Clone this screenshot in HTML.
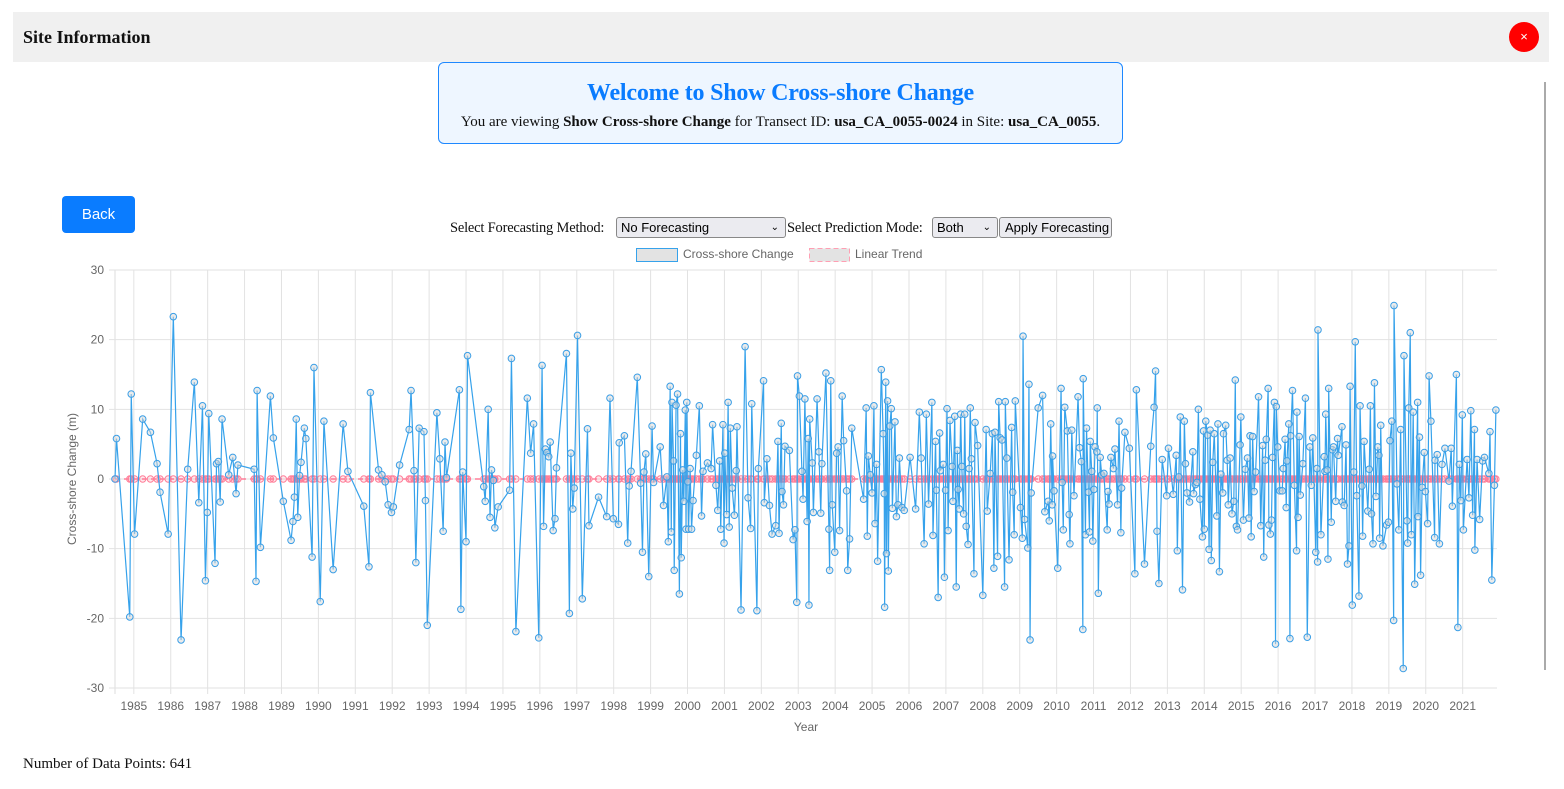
<!DOCTYPE html>
<html><head><meta charset="utf-8">
<style>
body{margin:0;width:1564px;height:789px;background:#fff;position:relative;overflow:hidden;font-family:"Liberation Serif",serif;}
.abs{position:absolute;}
#hdr{left:13px;top:12px;width:1536px;height:50px;background:#f0f0f0;}
#hdr h2{position:absolute;left:10px;top:15px;margin:0;font-size:18px;font-weight:bold;color:#111;}
#close{left:1509px;top:22px;width:30px;height:30px;border-radius:50%;background:#f00;color:#fff;font:13px "Liberation Sans",sans-serif;text-align:center;line-height:30px;}
#welcome{left:438px;top:62px;width:683px;height:80px;border:1px solid #1e88ff;border-radius:6px;background:#eef6ff;text-align:center;}
#welcome h1{margin:17px 0 0;font-size:24px;color:#0a7cff;font-weight:bold;letter-spacing:-0.2px;}
#welcome p{margin:7px 0 0;font-size:15px;color:#111;}
#back{left:62px;top:196px;width:73px;height:37px;background:#0a7cff;border-radius:4px;color:#fff;font:15px "Liberation Sans",sans-serif;text-align:center;line-height:37px;}
.lbl{font-size:14.5px;color:#111;top:220px;letter-spacing:-0.2px;white-space:nowrap;}
.sel{top:217px;height:21px;border:1px solid #888;border-radius:3px;background:#ebebf0;font:13px "Liberation Sans",sans-serif;line-height:20px;padding-left:4px;box-sizing:border-box;}
.sel .ar{position:absolute;right:6px;top:0;font-size:10px;}
#foot{left:23px;top:756px;font-size:15px;color:#111;}
#scroll{left:1544px;top:82px;width:2px;height:588px;background:#aaa;}
</style></head><body>
<div id="hdr" class="abs"><h2>Site Information</h2></div>
<div id="close" class="abs">×</div>
<div id="welcome" class="abs">
<h1>Welcome to Show Cross-shore Change</h1>
<p>You are viewing <b>Show Cross-shore Change</b> for Transect ID: <b>usa_CA_0055-0024</b> in Site: <b>usa_CA_0055</b>.</p>
</div>
<div id="back" class="abs">Back</div>
<div class="abs lbl" style="left:450px">Select Forecasting Method:</div>
<div class="abs sel" style="left:616px;width:170px">No Forecasting<span class="ar">&#8964;</span></div>
<div class="abs lbl" style="left:787px">Select Prediction Mode:</div>
<div class="abs sel" style="left:932px;width:66px">Both<span class="ar">&#8964;</span></div>
<div class="abs sel" style="left:999px;width:113px;padding-left:5px">Apply Forecasting</div>
<div id="scroll" class="abs"></div>
<div id="foot" class="abs">Number of Data Points: 641</div>
<svg id="chart" class="abs" style="left:0;top:0" width="1564" height="789"></svg>
<script>
const years=[1984.49,1984.53,1984.89,1984.93,1985.02,1985.24,1985.45,1985.63,1985.71,1985.93,1986.07,1986.28,1986.46,1986.64,1986.76,1986.86,1986.94,1986.99,1987.03,1987.20,1987.24,1987.29,1987.34,1987.39,1987.57,1987.68,1987.77,1987.82,1988.26,1988.31,1988.34,1988.43,1988.70,1988.78,1989.05,1989.26,1989.31,1989.35,1989.40,1989.44,1989.49,1989.53,1989.62,1989.66,1989.83,1989.88,1990.05,1990.15,1990.40,1990.67,1990.80,1991.23,1991.37,1991.41,1991.63,1991.72,1991.81,1991.89,1991.98,1992.03,1992.20,1992.46,1992.51,1992.59,1992.64,1992.73,1992.86,1992.90,1992.95,1993.21,1993.29,1993.38,1993.43,1993.47,1993.82,1993.86,1993.91,1994.00,1994.04,1994.48,1994.52,1994.60,1994.65,1994.69,1994.74,1994.78,1994.87,1995.18,1995.23,1995.35,1995.66,1995.75,1995.83,1995.97,1996.06,1996.10,1996.15,1996.19,1996.24,1996.28,1996.36,1996.41,1996.45,1996.72,1996.80,1996.84,1996.89,1996.93,1997.02,1997.15,1997.29,1997.33,1997.59,1997.81,1997.90,
1997.99,1998.13,1998.15,1998.29,1998.38,1998.42,1998.47,1998.64,1998.73,1998.78,1998.82,1998.87,1998.95,1999.04,1999.08,1999.26,1999.35,1999.44,1999.48,1999.53,1999.56,1999.58,1999.62,1999.64,1999.69,1999.73,1999.78,1999.81,1999.83,1999.87,1999.90,1999.94,1999.96,1999.98,2000.01,2000.03,2000.07,2000.11,2000.15,2000.24,2000.32,2000.38,2000.42,2000.54,2000.64,2000.68,2000.77,2000.82,2000.87,2000.90,2000.96,2000.99,2001.01,2001.06,2001.10,2001.13,2001.16,2001.21,2001.27,2001.32,2001.34,2001.45,2001.56,2001.64,2001.71,2001.74,2001.88,2001.92,2002.06,2002.08,2002.15,2002.22,2002.29,2002.39,2002.45,2002.48,2002.54,2002.56,2002.60,2002.64,2002.76,2002.86,2002.91,2002.96,2002.98,2003.03,2003.10,2003.13,2003.18,2003.24,2003.27,2003.29,2003.31,2003.38,2003.41,2003.51,2003.56,2003.61,2003.64,2003.75,2003.83,2003.85,2003.88,2003.92,2003.99,2004.04,2004.08,2004.12,2004.19,2004.23,2004.31,2004.34,2004.39,2004.45,2004.77,2004.84,2004.87,2004.90,2004.95,2005.00,2005.05,2005.08,2005.12,2005.15,2005.25,2005.30,2005.33,2005.34,2005.37,2005.39,2005.42,2005.44,2005.48,2005.52,2005.55,2005.62,2005.66,2005.70,2005.74,2005.81,2005.87,2006.03,2006.18,2006.28,2006.33,2006.41,2006.47,2006.53,2006.62,2006.65,2006.72,2006.74,2006.79,2006.83,2006.85,2006.93,2006.96,2006.99,2007.03,2007.06,2007.11,2007.17,2007.19,2007.24,2007.28,2007.31,2007.33,2007.36,2007.40,2007.43,2007.48,2007.51,2007.55,2007.60,2007.63,2007.66,2007.69,2007.76,2007.79,2007.86,2008.00,2008.09,2008.12,2008.20,2008.26,2008.30,2008.33,2008.40,2008.43,2008.47,2008.52,2008.59,2008.61,2008.65,2008.71,2008.78,2008.81,2008.85,2008.88,2009.02,2009.07,2009.09,2009.13,2009.22,2009.25,2009.28,2009.31,2009.50,
2009.62,2009.68,2009.77,2009.80,2009.84,2009.88,2009.89,2009.93,2010.03,2010.12,2010.15,2010.18,2010.22,2010.29,2010.34,2010.36,2010.41,2010.47,2010.58,2010.62,2010.67,2010.71,2010.72,2010.78,2010.81,2010.86,2010.89,2010.91,2010.95,2010.98,2011.01,2011.04,2011.09,2011.10,2011.13,2011.18,2011.22,2011.28,2011.37,2011.39,2011.42,2011.47,2011.54,2011.58,2011.65,2011.69,2011.74,2011.76,2011.85,2011.97,2012.12,2012.16,2012.38,2012.55,2012.64,2012.68,2012.72,2012.77,2012.86,2012.98,2013.03,2013.16,2013.24,2013.27,2013.31,2013.35,2013.41,2013.46,2013.49,2013.53,2013.60,2013.69,2013.71,2013.76,2013.80,2013.84,2013.88,2013.95,2013.98,2014.00,2014.04,2014.09,2014.13,2014.16,2014.19,2014.23,2014.27,2014.34,2014.37,2014.41,2014.45,2014.50,2014.52,2014.58,2014.62,2014.65,2014.70,2014.75,2014.80,2014.84,2014.87,2014.90,2014.97,2014.99,2015.06,2015.11,2015.17,2015.21,2015.24,2015.27,2015.31,2015.35,2015.39,2015.47,2015.53,2015.58,2015.61,2015.65,2015.68,2015.73,2015.75,2015.79,2015.82,2015.85,2015.90,2015.93,2015.95,2015.99,2016.05,2016.11,2016.14,2016.19,2016.22,2016.24,2016.29,2016.32,2016.34,2016.39,2016.44,2016.50,2016.51,2016.54,2016.57,2016.60,2016.67,2016.74,2016.79,2016.86,2016.90,2016.94,2017.02,2017.05,2017.07,2017.08,2017.16,2017.25,2017.27,2017.29,2017.33,2017.35,2017.37,2017.44,2017.47,2017.50,2017.56,2017.61,2017.63,2017.73,2017.74,2017.79,2017.84,2017.88,2017.92,2017.95,2018.01,2018.05,2018.09,2018.13,2018.19,2018.22,2018.27,2018.29,2018.33,2018.43,2018.47,2018.50,2018.53,2018.57,2018.61,2018.65,2018.70,2018.73,2018.75,2018.78,2018.84,2018.94,2018.99,2019.03,2019.08,2019.13,2019.14,2019.22,2019.27,2019.32,2019.39,2019.41,2019.49,2019.51,2019.54,2019.58,2019.61,2019.66,2019.70,2019.78,2019.79,2019.83,2019.86,2019.90,2019.96,2019.99,2020.05,2020.09,2020.14,2020.24,2020.25,2020.31,2020.37,2020.44,2020.52,2020.63,2020.69,2020.72,2020.83,2020.87,2020.91,2020.95,2020.99,2021.02,2021.12,2021.17,2021.22,2021.27,2021.32,2021.33,2021.39,2021.46,2021.54,2021.59,2021.71,2021.74,2021.79,2021.86,2021.90];
const changes=[0,5.8,-19.8,12.2,-7.9,8.6,6.7,2.2,-1.9,-7.9,23.3,-23.1,1.4,13.9,-3.4,10.5,-14.6,-4.8,9.4,-12.1,2.2,2.5,-3.3,8.6,0.6,3.1,-2.1,2,1.4,-14.7,12.7,-9.8,11.9,5.9,-3.2,-8.8,-6.1,-2.6,8.6,-5.5,0.5,2.4,7.3,5.8,-11.2,16,-17.6,8.3,-13,7.9,1.1,-3.9,-12.6,12.4,1.3,0.6,-0.4,-3.7,-4.8,-4,2,7.1,12.7,1.2,-12,7.3,6.8,-3.1,-21,9.5,2.9,-7.5,5.3,0.2,12.8,-18.7,1,-9,17.7,-1.1,-3.2,10,-5.5,1.3,-0.2,-7,-4,-1.6,17.3,-21.9,11.6,3.7,7.9,-22.8,16.3,-6.8,4.3,3.8,3.2,5.3,-7.4,-5.7,1.6,18,-19.3,3.7,-4.3,-1.3,20.6,-17.2,7.2,-6.7,-2.6,-5.4,11.6,
-5.7,-6.5,5.2,6.2,-9.2,-1,1.1,14.6,-0.6,-10.5,1,3.6,-14,7.6,-0.5,4.6,-3.8,0.3,-9,13.3,-7.6,11,2.6,-13.1,10.6,12.2,-16.5,6.5,-11.3,1.3,-3.2,9.9,-7.2,11,-0.4,-7.2,1.5,-7.2,-3.1,3.4,10.5,-5.3,1.1,2.3,1.5,7.8,-0.9,-4.5,2.6,-7.2,7.8,-9.2,3.7,-5.1,11,-6.9,7.3,-1.3,-5.2,1.2,7.5,-18.8,19,-2.7,-7.1,10.8,-18.9,1.5,14.1,-3.4,2.9,-3.8,-7.9,-6.7,5.4,-7.8,8,-1.8,-3.7,4.7,4.1,-8.7,-7.3,-17.7,14.8,11.9,1.1,-2.9,11.5,-6.1,5.8,-18.1,8.6,2.3,-4.8,11.5,3.9,-4.9,2.2,15.2,-7.2,-13.1,14.1,-3.7,-10.5,3.7,4.6,-7.4,11.9,5.5,-1.7,-13.1,-8.6,7.3,-2.9,10.2,-8.2,3.3,0.6,-2,10.5,-6.4,2.1,-11.8,15.7,6.5,-2.1,-18.4,13.9,-10.7,11.2,-13.2,7.6,10.1,-4.2,8.2,-5.4,-3.7,3,-4.1,-4.5,3.1,-4.3,9.6,3,-9.3,9.3,-3.6,11,-8.1,5.4,-1.6,-17,6.6,1.2,2.1,-14.1,-1.6,10.1,-7.4,8.4,1.8,-3.2,9,-15.5,4.1,-1.5,-4.3,9.3,1.8,-5,9.3,-6.8,-9.4,1.5,10.2,2.9,-13.6,8.1,4.8,-16.7,7.1,-4.6,0.8,6.5,-12.8,6.7,-11.1,11.1,5.9,5.6,-15.5,11.1,3,-11.6,7.4,-1.9,-8,11.2,-4.1,-8.5,20.5,-5.8,-9.9,13.6,-23.1,-2,10.2,
12,-4.7,-3.2,-6,7.9,-3.7,3.3,-1.7,-12.8,13,-0.5,-7.3,10.3,6.9,-5.1,-9.3,7,-2.4,11.8,4.5,2.5,-21.6,14.4,-8,7.3,-1.9,-7.6,5.4,1.1,-8.9,-1.5,4.6,3.9,10.2,-16.4,3.1,0.6,0.8,-7.3,-1.8,-3.6,3.1,1.5,4.3,-3.7,8.3,-7.7,-1.3,6.7,4.4,-13.6,12.8,-12.2,4.7,10.3,15.5,-7.5,-15,2.8,-2.4,4.4,-2.2,3.4,-10.3,0.3,8.9,-15.9,8.3,2.2,-2,-3.3,3.9,-2.1,-0.8,-0.5,10,-2.9,-8.3,6.9,-7.2,8.3,6.3,-10.1,7,-11.7,2.4,6.5,-5.3,7.9,-13.3,0.7,-2,6.5,7.7,2.7,-3.7,3,-5,-3.2,14.2,-6.8,-7.3,4.9,8.9,-5.9,1.4,3,-5.6,6.2,-8.3,6.1,-1.8,1,11.8,-6.7,4.8,-11.2,2.7,5.7,13,-6.6,-7.9,-5.9,3.1,11,-23.7,10.4,4.6,-1.7,-1.7,1.5,5.7,-4.1,2.6,7.9,-22.9,6.2,12.7,-0.9,-10.3,9.6,-5.5,6.1,-2.3,2.2,11.6,-22.7,4.6,-0.9,5.9,-10.5,1.5,-11.9,21.4,-8,3.2,1.1,9.3,1.3,-11.5,13,-6.2,4.2,4.6,-3.2,5.8,3.4,7.5,-3.3,-3.8,4.9,-12.2,-9.6,13.3,-18.1,1,19.7,-2.4,-16.8,10.5,-1,-8.2,5.4,-4.6,1.4,10.5,-5,-9.3,13.8,-2.5,4.6,3.4,-8.5,7.7,-9.6,-6.6,-6.2,5.5,8.3,-20.3,24.9,-0.7,-7.3,7.1,-27.2,17.7,-6,-9.2,10.2,21,-8,9.6,-15.1,11,-5.4,6,-13.8,-1.2,3.8,-1.8,-6.4,14.8,8.3,-8.4,2.7,3.5,-9.3,2.1,4.4,-0.3,4.4,-3.9,15,-21.3,2.1,-3.1,9.2,-7.3,2.8,-2.7,9.8,-5.2,7.1,-10.2,2.8,-5.8,2.6,3.1,0.8,6.8,-14.5,-0.9,9.9];
const trend=years.map(()=>0);
const yTicks=[30,20,10,0,-10,-20,-30];
const xTickYears=[1985,1986,1987,1988,1989,1990,1991,1992,1993,1994,1995,1996,1997,1998,1999,2000,2001,2002,2003,2004,2005,2006,2007,2008,2009,2010,2011,2012,2013,2014,2015,2016,2017,2018,2019,2020,2021];

const NS='http://www.w3.org/2000/svg';
const svg=document.getElementById('chart');
const L=115,R=1497,T=270,B=688,x0=1984.49,x1=2021.93,yMin=-30,yMax=30;
const X=v=>L+(v-x0)/(x1-x0)*(R-L);
const Y=v=>B-(v-yMin)/(yMax-yMin)*(B-T);
function mk(tag,attrs,parent){const e=document.createElementNS(NS,tag);for(const k in attrs)e.setAttribute(k,attrs[k]);(parent||svg).appendChild(e);return e;}
const grid=mk('g',{});


mk('line',{x1:L,x2:L,y1:T,y2:B+6,stroke:'#ddd'},grid);
xTickYears.forEach(yr=>{
 const x=X(yr);
 mk('line',{x1:x,x2:x,y1:T,y2:B+6,stroke:'#e2e2e2'},grid);
 const t=mk('text',{x:x,y:B+22,'text-anchor':'middle','font-size':12,fill:'#666','font-family':'Liberation Sans, sans-serif'});
 t.textContent=yr;
 
 
});
yTicks.forEach(v=>{
 const y=Y(v);
 mk('line',{x1:L-6,x2:R,y1:y,y2:y,stroke:'#e2e2e2'},grid);
 const t=mk('text',{x:L-11,y:y+4,'text-anchor':'end','font-size':12,fill:'#666','font-family':'Liberation Sans, sans-serif'});
 t.textContent=v;
 
 
});
const xt=mk('text',{x:806,y:731,'text-anchor':'middle','font-size':12,fill:'#666','font-family':'Liberation Sans, sans-serif'});
xt.textContent='Year';


const yt=mk('text',{x:0,y:0,'text-anchor':'middle','font-size':12,fill:'#666','font-family':'Liberation Sans, sans-serif',transform:'translate(76,479) rotate(-90)'});
yt.textContent='Cross-shore Change (m)';


const lg=mk('g',{'font-family':'Liberation Sans, sans-serif','font-size':12,fill:'#666'});


mk('rect',{x:636.5,y:248.5,width:41,height:13,fill:'#e3e3e3',stroke:'#36a2eb'},lg);
const l1=mk('text',{x:683,y:258},lg);l1.textContent='Cross-shore Change';


mk('rect',{x:809.5,y:248.5,width:40,height:13,fill:'#e3e3e3',stroke:'#ff9fb3','stroke-dasharray':'5,3'},lg);
const l2=mk('text',{x:855,y:258},lg);l2.textContent='Linear Trend';


const tg=mk('g',{});


mk('polyline',{points:years.map((yr,i)=>X(yr)+','+Y(trend[i])).join(' '),fill:'none',stroke:'#ff6384','stroke-width':1.2,'stroke-dasharray':'5,4'},tg);
years.forEach((yr,i)=>{
 const c=mk('circle',{cx:X(yr),cy:Y(trend[i]),r:3.2,fill:'rgba(255,99,132,0.15)',stroke:'#ff7f99','stroke-width':1},tg);
 
 
});
const dg=mk('g',{});


mk('polyline',{points:years.map((yr,i)=>X(yr)+','+Y(changes[i])).join(' '),fill:'none',stroke:'#36a2eb','stroke-width':1.2},dg);
years.forEach((yr,i)=>{
 const c=mk('circle',{cx:X(yr),cy:Y(changes[i]),r:3.3,fill:'rgba(215,215,215,0.5)',stroke:'#3a9ee6','stroke-width':1},dg);
 
 
});
</script>
</body></html>
